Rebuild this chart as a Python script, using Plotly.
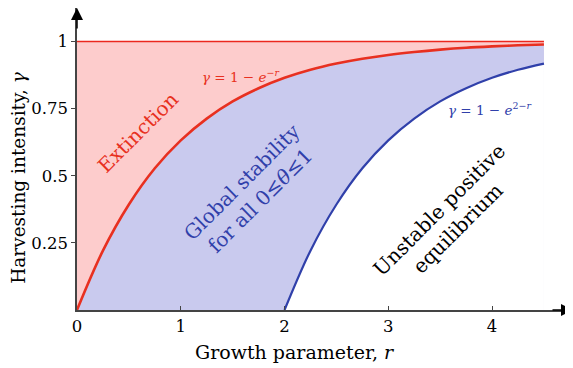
import plotly.graph_objects as go

# Data
r_vals = [0, 0.25, 0.5, 0.75, 1, 1.25, 1.5, 1.75, 2, 2.25, 2.5, 2.75, 3, 3.25,
          3.5, 3.75, 4, 4.25, 4.5]
gamma_ext = [0, 0.221, 0.393, 0.528, 0.632, 0.713, 0.777, 0.826, 0.865, 0.895,
             0.918, 0.936, 0.950, 0.961, 0.970, 0.977, 0.982, 0.986, 0.989]
r_unst = [2, 2.25, 2.5, 2.75, 3, 3.25, 3.5, 3.75, 4, 4.25, 4.5]
gamma_unst = [0, 0.221, 0.393, 0.528, 0.632, 0.713, 0.777, 0.826, 0.865, 0.895, 0.918]
r_top = [0, 4.5]
gamma_top = [1, 1]
x_ticks = [0, 1, 2, 3, 4]
y_ticks = [0.25, 0.5, 0.75, 1]
y_ticklabels = ["0.25", "0.5", "0.75", "1"]

RED = "rgb(232,48,32)"
BLUE = "rgb(48,64,170)"
RED_FILL = "rgb(253,204,204)"
BLUE_FILL = "rgb(201,202,238)"
FONT = "DejaVu Serif"

fig = go.Figure()
# fills (layered: red region, blue region, white region)
fig.add_trace(go.Scatter(x=r_top, y=gamma_top, mode="lines", line=dict(width=0),
                         fill="tozeroy", fillcolor=RED_FILL, hoverinfo="skip", showlegend=False))
fig.add_trace(go.Scatter(x=r_vals, y=gamma_ext, mode="lines", line=dict(width=0, shape="spline"),
                         fill="tozeroy", fillcolor=BLUE_FILL, hoverinfo="skip", showlegend=False))
fig.add_trace(go.Scatter(x=r_unst, y=gamma_unst, mode="lines", line=dict(width=0, shape="spline"),
                         fill="tozeroy", fillcolor="white", hoverinfo="skip", showlegend=False))
# visible curves
fig.add_trace(go.Scatter(x=r_top, y=gamma_top, mode="lines", line=dict(color="rgb(235,40,30)", width=1.4),
                         showlegend=False))
fig.add_trace(go.Scatter(x=r_vals, y=gamma_ext, mode="lines",
                         line=dict(color=RED, width=2.6, shape="spline"), showlegend=False))
fig.add_trace(go.Scatter(x=r_unst, y=gamma_unst, mode="lines",
                         line=dict(color=BLUE, width=2.2, shape="spline"), showlegend=False))

ann = []
ann.append(dict(x=0.59, y=0.663, text="Extinction", textangle=-45,
                font=dict(color=RED, size=20, family=FONT), showarrow=False))
ann.append(dict(x=1.58, y=0.87, text="<i>γ</i> = 1 − <i>e</i><sup>−<i>r</i></sup>",
                font=dict(color=RED, size=13.5, family=FONT), showarrow=False))
ann.append(dict(x=3.98, y=0.75, text="<i>γ</i> = 1 − <i>e</i><sup>2−<i>r</i></sup>",
                font=dict(color=BLUE, size=13.5, family=FONT), showarrow=False))
ann.append(dict(x=1.68, y=0.444, text="Global stability<br>for all 0≤<i>θ</i>≤1", textangle=-45,
                font=dict(color=BLUE, size=20, family=FONT), showarrow=False))
ann.append(dict(x=3.58, y=0.34, text="Unstable positive<br>equilibrium", textangle=-45,
                font=dict(color="black", size=20, family=FONT), showarrow=False))
# axis titles
ann.append(dict(x=-0.117, xref="paper", y=0.496, yref="y", xanchor="center", yanchor="middle",
                text="Harvesting intensity, <i>γ</i>", textangle=-90,
                font=dict(color="black", size=18.5, family=FONT), showarrow=False))
ann.append(dict(x=2.1, y=-0.139, yref="paper", xanchor="center", yanchor="middle",
                text="Growth parameter, <i>r</i>",
                font=dict(color="black", size=19, family=FONT), showarrow=False))
# arrowheads
ann.append(dict(x=4.78, y=0, ax=-22, ay=0, text="", showarrow=True, arrowhead=2, arrowsize=1.6,
                arrowwidth=1.5, arrowcolor="black"))
ann.append(dict(x=0, y=1.125, ax=0, ay=22, text="", showarrow=True, arrowhead=2, arrowsize=1.6,
                arrowwidth=1.5, arrowcolor="black"))
fig.update_layout(annotations=ann)

fig.update_xaxes(range=[0, 4.78], showgrid=False, zeroline=False, showline=True, linecolor="#444",
                 linewidth=1.5, tickvals=x_ticks, ticks="inside", ticklen=4, tickcolor="#444",
                 tickfont=dict(family=FONT, size=16.5, color="black"))
fig.update_yaxes(range=[0, 1.125], showgrid=False, zeroline=False, showline=True, linecolor="#444",
                 linewidth=1.5, tickvals=y_ticks, ticktext=y_ticklabels, ticks="outside", ticklen=4,
                 tickcolor="#444", tickfont=dict(family=FONT, size=16.5, color="black"))
# the page adds an 8px body margin, so the figure is sized to fit the window
fig.update_layout(width=565, height=360, margin=dict(l=69, r=0, t=0, b=58, autoexpand=False),
                  plot_bgcolor="white", paper_bgcolor="white")
fig.write_html("out.html")
